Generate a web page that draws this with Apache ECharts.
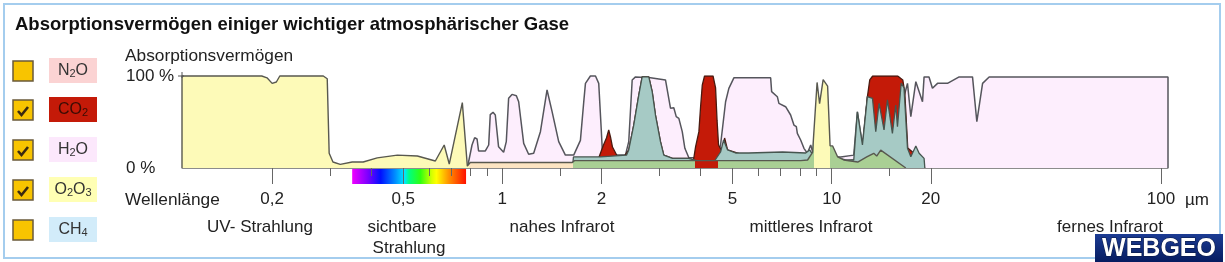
<!DOCTYPE html>
<html><head><meta charset="utf-8">
<script src="https://cdn.jsdelivr.net/npm/echarts@6/dist/echarts.min.js"></script>
<style>html,body{margin:0;padding:0;background:#fff}#c{width:1225px;height:262px}</style>
</head><body><div id="c"></div>
<script>
// ---------- data (wavelength in µm, absorption in %) ----------
const xTickLabels = [0.2, 0.5, 1, 2, 5, 10, 20, 100];
const xMinorTicks = [0.3, 0.4, 0.6, 0.7, 0.8, 0.9, 1.5, 3, 4, 6, 7, 8, 9, 15];
const yTickLabels = [0, 100];

const o2o3Wave = [0.1065,0.1065,0.186,0.193,0.200,0.206,0.211,0.286,0.294,0.298,0.306,0.322,0.350,0.378,0.417,0.480,0.552,0.626,0.666,0.690,0.756,0.783,0.799,1.632,1.655,8.05,8.45,8.75,9.03,9.19,9.42,9.72,9.89,10.07,10.43,10.88,11.42,12.0,12.78,13.42,13.70,14.09,16.79];
const o2o3Abs  = [0,100,100,98,92,93.5,100,100,97,16,6.5,4,6.5,6.5,11,14,13,7.6,25,4.3,71,2,6,6,8,8,8.7,17,93,70,96,89,24,24,12,8.7,7.6,6.5,12,16,13,19.5,0];

const h2oWave = [0.783,0.809,0.824,0.838,0.847,0.888,0.909,0.919,0.937,0.952,0.974,1.009,1.028,1.045,1.070,1.103,1.121,1.161,1.202,1.245,1.305,1.367,1.416,1.483,1.554,1.647,1.726,1.767,1.788,1.851,1.918,1.962,1.996,2.014,2.130,2.365,2.420,2.479,2.537,2.818,3.129,3.240,3.316,3.373,3.435,3.518,3.583,3.684,3.861,4.348,4.534,4.598,4.763,4.873,5.047,6.527,6.572,6.839,6.915,7.247,7.505,7.68,7.81,7.866,8.050,8.238,8.436,8.636,8.738,8.944,10.65,11.67,11.97,12.40,12.84,13.05,13.30,13.61,13.93,14.42,14.77,15.29,15.65,15.84,16.26,16.58,16.99,17.39,18.01,18.87,19.08,19.75,20.23,20.96,22.47,24.38,26.77,27.59,28.72,30.07,105,105];
const h2oAbs  = [0,25,33,31.5,18.5,18.5,25,58,60.5,57.6,23,17,28.6,75.8,80,78.6,72,26.8,14.9,16,39.5,84.8,61.2,28.6,14,14,30,72,92,100,100,92,43,16,14,14,28.6,95.7,99,98,95.7,65,65.5,55.8,54,39.5,21.4,11.2,11.2,10,17.4,25,72,86.6,98,98,83,77.5,70.3,66.6,57.6,46.7,45,37.7,30.4,21.4,16,25,18.5,13,12,14,61,25,77.5,81,75.8,39.5,70.3,41.3,74,37.7,68.5,45,92.4,77.5,92,55.8,93.8,72,99,99,86.6,92,92,99,99,50.3,92,99,99,0];

const co2Wave = [1.958,2.028,2.071,2.104,2.130,2.160,2.232,2.316,2.420,2.506,2.596,2.658,2.784,2.851,2.917,3.021,3.092,3.287,3.676,3.806,3.861,3.952,3.999,4.046,4.111,4.363,4.441,4.487,4.534,4.654,4.73,4.83,5.594,7.097,8.337,8.816,9.93,11.03,11.67,12.40,12.84,13.05,13.32,15.87,16.44,16.67,17.02,17.75,18.13,18.65,19.18];
const co2Abs  = [10,25,32.6,41.3,33.7,22.8,13,9.8,19.6,46.7,79.3,99,99,83,57.6,28.6,14,10.5,10.5,8.7,23,39.5,66.6,90,100,100,87,52,25,17.4,32.6,19.6,12.3,14.9,14,13,13,7.6,8.7,20,77.5,95.7,100,100,95.7,82.6,21.7,16.3,19.6,6.5,0];

// overlap of CO2 and H2O absorption (drawn in teal in the original)
const overlapWave = [1.632,1.644,1.986,2.382,2.420,2.506,2.596,2.658,2.784,2.851,2.917,3.021,3.092,3.287,3.676,3.942,4.409,4.598,4.697,4.83,5.108,5.594,7.097,8.337,8.574,8.816,9.93,11.03,11.67,11.97,12.40,12.84,13.30,13.61,13.93,14.42,14.77,15.29,15.65,15.84,16.26,16.58,16.99,17.39,18.01,18.43,19.08,19.18];
const overlapAbs  = [0,12,12,14,19.6,46.7,79.3,99,99,83,57.6,28.6,14,10.5,10.5,7.6,7.6,17.4,30.4,19.6,16.3,16.3,17.4,16.3,19.6,13,13,8.7,8.7,61,25,77.5,75.8,39.5,70.3,41.3,74,37.7,68.5,45,92.4,87,21.4,12.3,24,16,10.5,0];

// colour bands of the O2/O3 layer where it lies over other gases (µm limits)
const bandLimits = [0.79, 1.64, 3.85, 4.52, 8.85, 9.85];
const bandColors = ['#fdfab8', '#fce4c2', '#a9cf94', '#c21a08', '#a9cf94', '#fdfab8', '#a9cf94'];

const legendItems = [
  {main: 'N', sub: '2', rest: 'O', bg: '#fbd3d3', checked: false, fg: '#333'},
  {main: 'CO', sub: '2', rest: '', bg: '#c41a08', checked: true, fg: '#3a0c04'},
  {main: 'H', sub: '2', rest: 'O', bg: '#fce8fc', checked: true, fg: '#333'},
  {main: 'O', sub: '2', rest: 'O', sub2: '3', bg: '#ffffb4', checked: true, fg: '#333'},
  {main: 'CH', sub: '4', rest: '', bg: '#d2ecfa', checked: false, fg: '#333'}
];

// ---------- chart ----------
const FONT = "'Liberation Sans', Arial, sans-serif";
const L = Math.log10;
const X_MIN = 0.1065, X_MAX = 105;
const pairs = (w, v) => w.map((x, i) => [L(x), v[i]]);

function fmtTick(v) {
  let best = xTickLabels[0];
  xTickLabels.forEach(t => { if (Math.abs(L(t) - v) < Math.abs(L(best) - v)) best = t; });
  return String(best).replace('.', ',');
}

const pieces = [];
for (let i = 0; i < bandColors.length; i++) {
  const p = {color: bandColors[i]};
  if (i > 0) p.gte = L(bandLimits[i - 1]);
  if (i < bandLimits.length) p.lt = L(bandLimits[i]);
  pieces.push(p);
}

const chart = echarts.init(document.getElementById('c'), null, {renderer: 'canvas'});

const option = {
  animation: false,
  backgroundColor: '#ffffff',
  textStyle: {fontFamily: FONT},
  grid: {left: 182, right: 57, top: 76, bottom: 94},
  xAxis: [
    {
      type: 'value', min: L(X_MIN), max: L(X_MAX), position: 'bottom', z: 10,
      axisLine: {show: true, lineStyle: {color: '#8c8c8c', width: 1}},
      axisTick: {show: true, customValues: xTickLabels.map(L), length: 16, lineStyle: {color: '#666', width: 1}},
      axisLabel: {show: true, customValues: xTickLabels.map(L), margin: 23, fontSize: 17, color: '#222', fontFamily: FONT, formatter: fmtTick},
      splitLine: {show: false}
    },
    {
      type: 'value', min: L(X_MIN), max: L(X_MAX), position: 'bottom', offset: 0, z: 10,
      axisLine: {show: false},
      axisTick: {show: true, customValues: xMinorTicks.map(L), length: 8, lineStyle: {color: '#666', width: 1}},
      axisLabel: {show: false},
      splitLine: {show: false}
    }
  ],
  yAxis: {
    type: 'value', min: 0, max: 100,
    axisLine: {show: false},
    axisTick: {show: false},
    axisLabel: {show: true, customValues: yTickLabels, align: 'left', margin: 56, fontSize: 17, color: '#222', fontFamily: FONT, formatter: v => v + ' %'},
    splitLine: {show: false}
  },
  visualMap: {
    type: 'piecewise', show: false, dimension: 0, seriesIndex: 3, pieces: pieces
  },
  series: [
    {
      name: 'H₂O', type: 'line', data: pairs(h2oWave, h2oAbs), showSymbol: false, symbol: 'none', clip: false,
      lineStyle: {color: '#55555c', width: 1.5}, areaStyle: {color: '#fdeefd', opacity: 1}, z: 2
    },
    {
      name: 'CO₂', type: 'line', data: pairs(co2Wave, co2Abs), showSymbol: false, symbol: 'none',
      lineStyle: {color: '#4a1a10', width: 1.3}, areaStyle: {color: '#c41a08', opacity: 1}, z: 3
    },
    {
      name: 'CO₂ + H₂O', type: 'line', data: pairs(overlapWave, overlapAbs), showSymbol: false, symbol: 'none',
      lineStyle: {color: '#46554f', width: 1.3}, areaStyle: {color: '#a6cac5', opacity: 1}, z: 4
    },
    {
      name: 'O₂/O₃', type: 'line', data: pairs(o2o3Wave, o2o3Abs), showSymbol: false, symbol: 'none', clip: false,
      lineStyle: {color: '#58584f', width: 1.4}, areaStyle: {opacity: 1}, z: 5
    }
  ]
};
chart.setOption(option);

// ---------- decorations ----------
const px = w => chart.convertToPixel({xAxisIndex: 0}, L(w));
const py = v => chart.convertToPixel({yAxisIndex: 0}, v);
const g = [];
// frame
g.push({type: 'rect', shape: {x: 4, y: 4, width: 1216, height: 254}, style: {fill: 'none', stroke: '#a4cdee', lineWidth: 2}, z: 1});
// title
g.push({type: 'text', x: 15, y: 25, style: {text: 'Absorptionsvermögen einiger wichtiger atmosphärischer Gase', font: 'bold 18.5px ' + FONT, fill: '#111', verticalAlign: 'middle'}, z: 2});
// axis texts
g.push({type: 'text', x: 125, y: 56, style: {text: 'Absorptionsvermögen', font: '17.3px ' + FONT, fill: '#222', verticalAlign: 'middle'}, z: 2});
g.push({type: 'text', x: 125, y: 200, style: {text: 'Wellenlänge', font: '17.3px ' + FONT, fill: '#222', verticalAlign: 'middle'}, z: 2});
g.push({type: 'text', x: 1197, y: 200, style: {text: 'µm', font: '17px ' + FONT, fill: '#222', align: 'center', verticalAlign: 'middle'}, z: 2});
// 100 % tick mark
const y100 = py(100), x0 = px(X_MIN);
g.push({type: 'line', shape: {x1: x0 - 4, y1: y100, x2: x0 + 2, y2: y100}, style: {stroke: '#555', lineWidth: 1}, z: 6});
g.push({type: 'line', shape: {x1: x0, y1: y100 - 4, x2: x0, y2: y100 + 2}, style: {stroke: '#555', lineWidth: 1}, z: 6});
const regions = [
  ['UV- Strahlung', 260, 227], ['sichtbare', 402, 227], ['Strahlung', 409, 248],
  ['nahes Infrarot', 562, 227], ['mittleres Infrarot', 811, 227], ['fernes Infrarot', 1110, 227]
];
regions.forEach(r => g.push({type: 'text', x: r[1], y: r[2], style: {text: r[0], font: '17px ' + FONT, fill: '#222', align: 'center', verticalAlign: 'middle'}, z: 2}));
// visible spectrum bar
const sx0 = px(0.35), sx1 = px(0.776);
g.push({type: 'rect', shape: {x: sx0, y: 169, width: sx1 - sx0, height: 15}, z: 0, zlevel: 0,
  style: {fill: new echarts.graphic.LinearGradient(0, 0, 1, 0, [
    {offset: 0, color: '#f000ff'}, {offset: 0.14, color: '#7a00ff'}, {offset: 0.25, color: '#0010ff'},
    {offset: 0.38, color: '#0090ff'}, {offset: 0.46, color: '#00e8ff'}, {offset: 0.5, color: '#00ff80'},
    {offset: 0.6, color: '#30ff10'}, {offset: 0.7, color: '#d8ff00'}, {offset: 0.74, color: '#ffff00'},
    {offset: 0.85, color: '#ff9000'}, {offset: 1, color: '#ff1000'}])}});
// legend
const rowY = [71, 110, 150, 190, 230];
legendItems.forEach((it, i) => {
  const cy = rowY[i];
  g.push({type: 'rect', shape: {x: 13, y: cy - 10, width: 20, height: 20}, style: {fill: '#f8c400', stroke: '#6a5a3a', lineWidth: 1.5}, z: 2});
  if (it.checked) {
    g.push({type: 'polyline', shape: {points: [[18, cy + 1], [21.5, cy + 5], [28, cy - 3]]}, style: {stroke: '#3a2a10', lineWidth: 2.6, fill: 'none'}, z: 3});
  }
  g.push({type: 'rect', shape: {x: 49, y: cy - 13, width: 48, height: 25}, style: {fill: it.bg}, z: 2});
  let txt = '{m|' + it.main + '}{s|' + it.sub + '}' + (it.rest ? '{m|' + it.rest + '}' : '') + (it.sub2 ? '{s|' + it.sub2 + '}' : '');
  g.push({type: 'text', x: 73, y: cy, z: 3, style: {text: txt, align: 'center', verticalAlign: 'middle', fill: it.fg,
    rich: {m: {fontSize: 16, fontFamily: FONT, fill: it.fg, height: 18}, s: {fontSize: 11, fontFamily: FONT, fill: it.fg, verticalAlign: 'bottom', height: 18, padding: [6, 0, 0, 0]}}}});
});
// logo
g.push({type: 'rect', shape: {x: 1095, y: 234, width: 128, height: 28}, z: 3,
  style: {fill: new echarts.graphic.LinearGradient(0, 0, 0, 1, [{offset: 0, color: '#1c3c94'}, {offset: 1, color: '#061c60'}])}});
g.push({type: 'text', x: 1159, y: 249, z: 4, style: {text: 'WEBGEO', font: 'bold 25px ' + FONT, fill: '#ffffff', stroke: '#0a1a40', lineWidth: 1, align: 'center', verticalAlign: 'middle'}});

chart.setOption({graphic: {elements: g}});
</script>
</body></html>
